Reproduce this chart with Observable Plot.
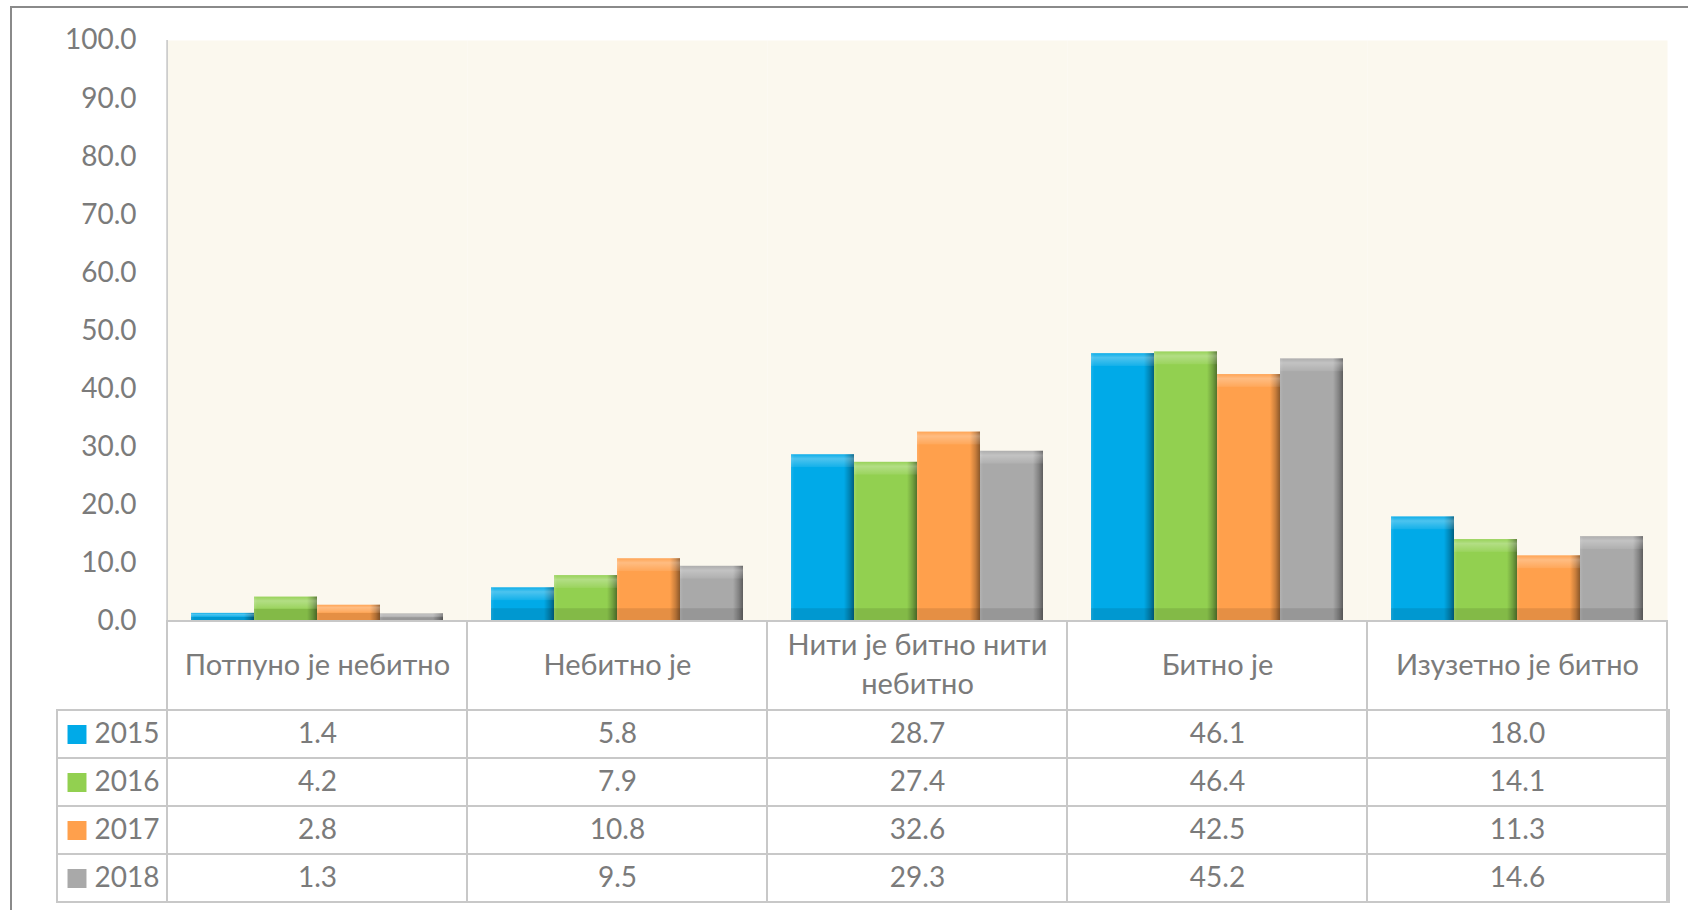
<!DOCTYPE html>
<html>
<head>
<meta charset="utf-8">
<script src="https://cdn.jsdelivr.net/npm/d3@7"></script>
<script src="https://cdn.jsdelivr.net/npm/@observablehq/plot@0.6"></script>
<style>
  html, body { margin: 0; padding: 0; background: #ffffff; overflow: hidden; }
  #wrap { position: relative; width: 1688px; height: 910px; overflow: hidden; }
  #border { position: absolute; left: 10px; top: 6px; width: 3000px; height: 3000px;
            border-left: 2px solid #8a8a8a; border-top: 2px solid #8a8a8a; }
  #chart, #table { position: absolute; left: 0; }
  #chart { top: 0; }
  #table { top: 621px; }
  svg { overflow: visible; display: block; }
</style>
</head>
<body>
<div id="wrap"><div id="border"></div><div id="chart"></div><div id="table"></div></div>
<script>
// ---- data ----
const categories = ["Потпуно је небитно", "Небитно је", "Нити је битно нити небитно", "Битно је", "Изузетно је битно"];
const categoryLabels = ["Потпуно је небитно", "Небитно је", "Нити је битно нити\nнебитно", "Битно је", "Изузетно је битно"];
const years = ["2015", "2016", "2017", "2018"];
const v2015 = [1.4, 5.8, 28.7, 46.1, 18.0];
const v2016 = [4.2, 7.9, 27.4, 46.4, 14.1];
const v2017 = [2.8, 10.8, 32.6, 42.5, 11.3];
const v2018 = [1.3, 9.5, 29.3, 45.2, 14.6];
const yTicks = [0, 10, 20, 30, 40, 50, 60, 70, 80, 90, 100];

const series = [v2015, v2016, v2017, v2018];
const data = categories.flatMap((c, i) => years.map((y, j) => ({cat: c, year: y, value: series[j][i]})));

// ---- style ----
const colors = ["#00AAE8", "#92D050", "#FFA04C", "#A9A9A9"];
const FONT = "Lato, 'Open Sans', sans-serif";
const TEXT = "#7b7b7b";
const GRID = "#c8c8c8";
const AXIS = "#c4c4c4";
const BG = "#FBF8EE";

// ---- layout ----
const W = 1688, ML = 165, MR = 19, MT = 40, CHART_H = 621;
const FW = (W - ML - MR) / categories.length;
const TABLE_H = 289, HEADER = 89, ROW = 48, LEGEND_L = 57;
const BEVEL = 2.2;

const chart = Plot.plot({
  width: W, height: CHART_H,
  marginTop: MT, marginBottom: 0, marginLeft: ML, marginRight: MR,
  style: {fontFamily: FONT, fontSize: "28px", color: TEXT, background: "transparent"},
  fx: {domain: categories, padding: 0, axis: null},
  x: {domain: years, paddingInner: 0, paddingOuter: 0.375, axis: null},
  y: {domain: [0, 100], ticks: yTicks, tickFormat: d3.format(".1f"), tickSize: 0, tickPadding: 31, label: null},
  color: {domain: years, range: colors},
  marks: [
    Plot.frame({fill: BG}),
    Plot.ruleX([categories[0]], {fx: d => d, x: null, dx: -FW / 2, y1: 0, y2: 100, stroke: AXIS, strokeWidth: 1.5}),
    Plot.barY(data, {fx: "cat", x: "year", y: "value", fill: "year"}),
    Plot.barY(data, {fx: "cat", x: "year", y: "value", fill: "url(#shadeH)"}),
    Plot.barY(data, {fx: "cat", x: "year", y1: d => d.value, y2: d => Math.max(d.value - BEVEL, d.value / 2), fill: "url(#shadeTop)"}),
    Plot.barY(data, {fx: "cat", x: "year", y1: 0, y2: d => Math.min(BEVEL, d.value / 2), fill: "black", fillOpacity: 0.1})
  ]
});

const ns = "http://www.w3.org/2000/svg";
function gradient(id, x2, y2, stops) {
  const g = document.createElementNS(ns, "linearGradient");
  g.setAttribute("id", id);
  g.setAttribute("x1", "0"); g.setAttribute("y1", "0"); g.setAttribute("x2", x2); g.setAttribute("y2", y2);
  stops.forEach(([o, c, a]) => {
    const s = document.createElementNS(ns, "stop");
    s.setAttribute("offset", o); s.setAttribute("stop-color", c); s.setAttribute("stop-opacity", a);
    g.appendChild(s);
  });
  return g;
}
const defs = document.createElementNS(ns, "defs");
defs.appendChild(gradient("shadeH", "1", "0", [[0, "#ffffff", 0.12], [0.05, "#ffffff", 0], [0.84, "#000000", 0], [0.93, "#000000", 0.22], [1, "#000000", 0.45]]));
defs.appendChild(gradient("shadeTop", "0", "1", [[0, "#ffffff", 0.05], [0.35, "#ffffff", 0.3], [1, "#ffffff", 0.08]]));
chart.insertBefore(defs, chart.firstChild);
document.getElementById("chart").appendChild(chart);

const table = Plot.plot({
  width: W, height: TABLE_H,
  marginTop: HEADER, marginBottom: TABLE_H - HEADER - ROW * years.length,
  marginLeft: LEGEND_L, marginRight: MR,
  style: {fontFamily: FONT, fontSize: "28px", color: TEXT, background: "transparent"},
  x: {domain: categories, range: [ML, W - MR], padding: 0, axis: null},
  y: {domain: years, padding: 0, axis: null},
  color: {domain: years, range: colors},
  marks: [
    Plot.cell(years, {y: d => d, fill: "white", stroke: GRID, strokeWidth: 2}),
    Plot.cell(categories, {x: d => d, insetTop: -HEADER, fill: "none", stroke: GRID, strokeWidth: 2}),
    Plot.text(categories, {x: d => d, frameAnchor: "top", dy: -HEADER / 2 - 4, text: (d, i) => categoryLabels[i], lineAnchor: "middle", lineHeight: 1.35, fontSize: 29}),
    Plot.text(data, {x: "cat", y: "year", text: d => d.value.toFixed(1)}),
    Plot.dot(years, {y: d => d, frameAnchor: "left", dx: 19.5, symbol: "square", r: 10.7, fill: d => d}),
    Plot.text(years, {y: d => d, frameAnchor: "left", dx: 37, textAnchor: "start"})
  ]
});
document.getElementById("table").appendChild(table);
</script>
</body>
</html>
